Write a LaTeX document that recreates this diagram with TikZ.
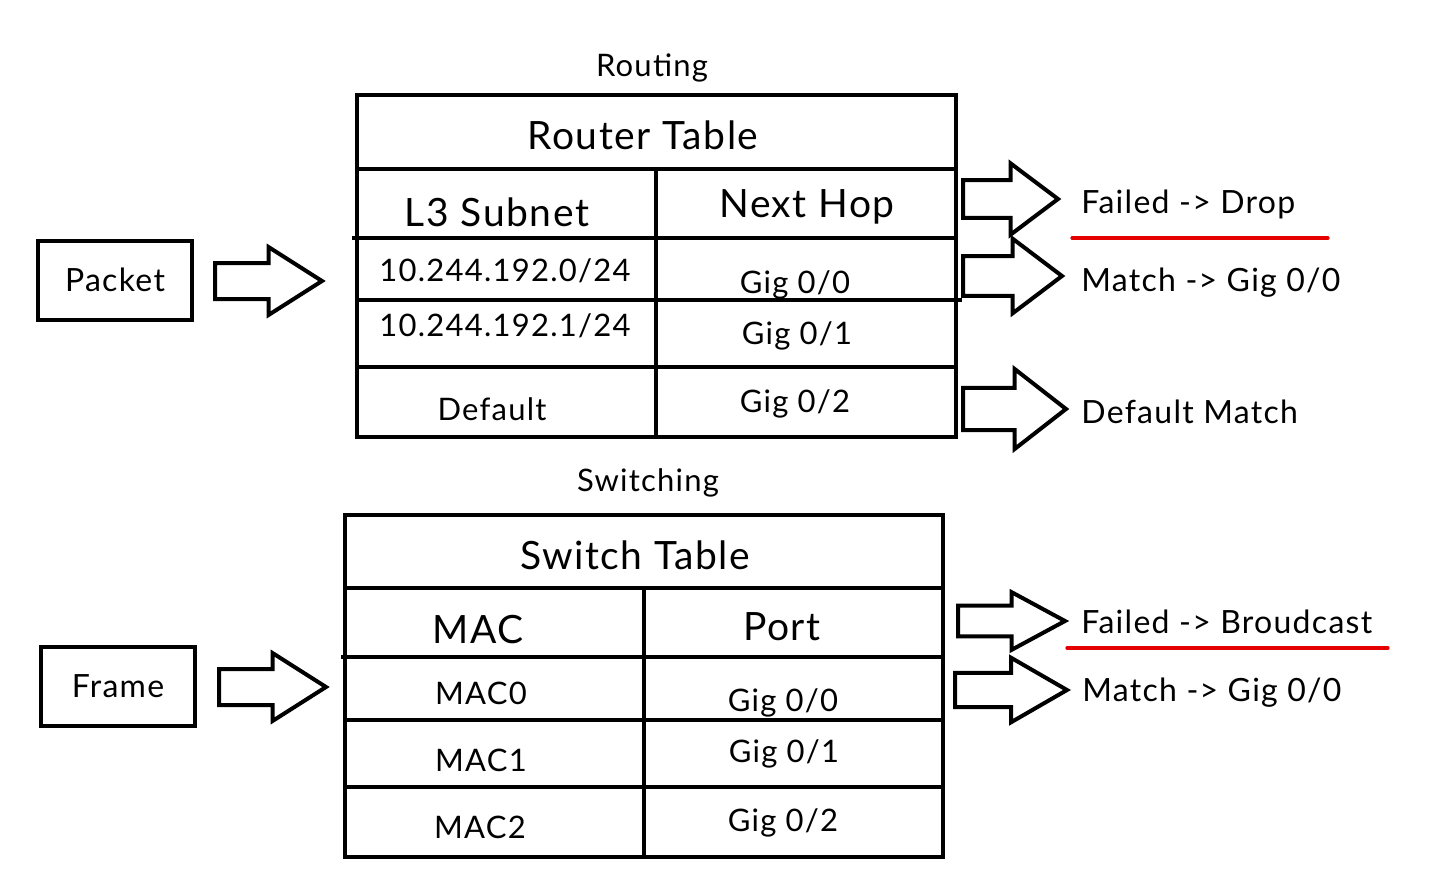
\documentclass[tikz,border=0pt]{standalone}
\usepackage{fontspec}
\setmainfont{Lato}[LetterSpace=4]
\usetikzlibrary{positioning}

\newcommand{\fsz}[1]{\fontsize{#1}{#1}\selectfont}

\tikzset{
    fatarrow/.pic={
        \draw[line width=2pt, line join=miter] (0,-18) -- (50,-18) -- (50,-34) -- (100,0)
            -- (50,34) -- (50,18) -- (0,18) -- cycle;
    }
}

\begin{document}
\begin{tikzpicture}[
    x=0.5pt, y=-0.5pt,
    tbl/.style={line width=2pt, line cap=rect},
    box/.style={rectangle, draw, line width=2pt, minimum width=77pt, minimum height=39.5pt, font=\fsz{16}},
    ttl/.style={font=\fsz{19.5}, inner sep=0pt},
    hdr/.style={font=\fsz{19.5}, inner sep=0pt},
    cell/.style={font=\fsz{15.5}, inner sep=0pt},
    res/.style={font=\fsz{16}, inner sep=0pt, anchor=west},
    redline/.style={draw=red!90!black, line width=1.6pt, line cap=round}
]
    \useasboundingbox (0,0) rectangle (1453,869);

    % routing
    \node[cell] (routing) at (652,68) {Routing};
    \draw[tbl] (357,95) rectangle (956,437);
    \draw[tbl] (357,169) -- (956,169);
    \draw[tbl] (354,238) -- (956,238);
    \draw[tbl] (357,300) -- (960,300);
    \draw[tbl] (357,367) -- (956,367);
    \draw[tbl] (656,169) -- (656,437);

    \node[ttl] (rtitle) at (643,135) {Router Table};
    \node[hdr] (subnet) at (497,212) {L3 Subnet};
    \node[hdr] (nexthop) at (807,207) {Next Hop};
    \node[cell] (net0) at (505,271) {10.244.192.0/24};
    \node[cell] (hop0) at (795,285) {Gig 0/0};
    \node[cell] (net1) at (505,326) {10.244.192.1/24};
    \node[cell] (hop1) at (797,336) {Gig 0/1};
    \node[cell] (netdef) at (492,409) {Default};
    \node[cell] (hopdef) at (795,404) {Gig 0/2};

    \node[box] (packet) at (115,280) {Packet};
    \pic at (215,281) [xscale=1.07] {fatarrow};

    \pic at (963,199) [xscale=0.95, yscale=1.05] {fatarrow};
    \pic at (963,276) [xscale=0.99, yscale=1.1] {fatarrow};
    \pic at (963,409) [xscale=1.03, yscale=1.18] {fatarrow};

    \node[res] (rfail) at (1081,204) {Failed -> Drop};
    \node[res] (rmatch) at (1081,283) {Match -> Gig 0/0};
    \node[res] (rdef) at (1081,412) {Default Match};
    \draw[redline] (1072,238) -- (1328,238);

    % switching
    \node[cell] (switching) at (648,483) {Switching};
    \draw[tbl] (345,515) rectangle (943,857);
    \draw[tbl] (345,588) -- (943,588);
    \draw[tbl] (343,657) -- (943,657);
    \draw[tbl] (345,720) -- (943,720);
    \draw[tbl] (345,787) -- (943,787);
    \draw[tbl] (644,588) -- (644,857);

    \node[ttl] (stitle) at (635,555) {Switch Table};
    \node[hdr] (mac) at (478,630) {MAC};
    \node[hdr] (port) at (782,627) {Port};
    \node[cell] (mac0) at (481,693) {MAC0};
    \node[cell] (port0) at (783,703) {Gig 0/0};
    \node[cell] (mac1) at (481,760) {MAC1};
    \node[cell] (port1) at (784,754) {Gig 0/1};
    \node[cell] (mac2) at (480,827) {MAC2};
    \node[cell] (port2) at (783,823) {Gig 0/2};

    \node[box] (frame) at (118,686) {Frame};
    \pic at (219,687) [xscale=1.07] {fatarrow};

    \pic at (958,621) [xscale=1.07, yscale=0.85] {fatarrow};
    \pic at (955,690) [xscale=1.12, yscale=0.95] {fatarrow};

    \node[res] (sfail) at (1081,622) {Failed -> Broudcast};
    \node[res] (smatch) at (1082,693) {Match -> Gig 0/0};
    \draw[redline] (1067,648) -- (1388,648);
\end{tikzpicture}
\end{document}
